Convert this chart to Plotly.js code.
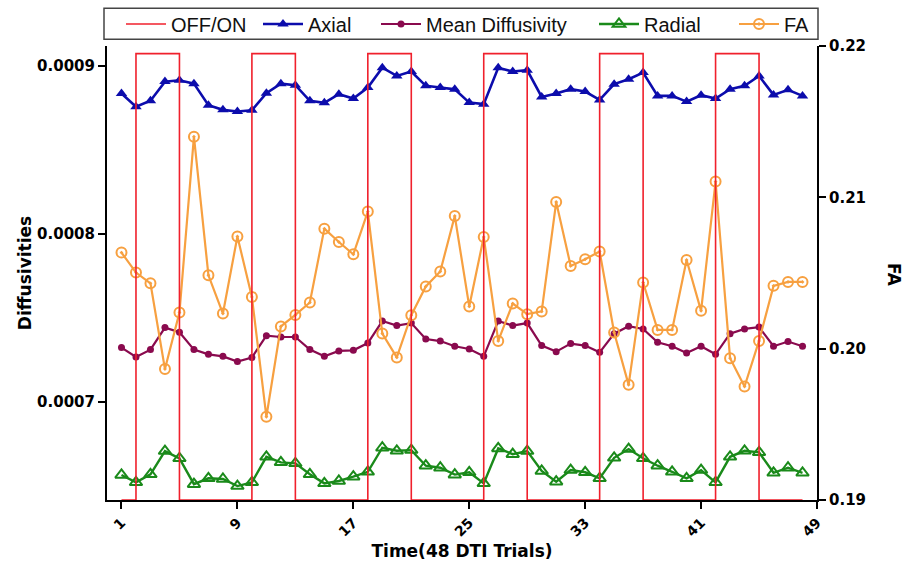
<!DOCTYPE html>
<html>
<head>
<meta charset="utf-8">
<script src="https://cdn.plot.ly/plotly-3.0.1.min.js"></script>
<style>html,body{margin:0;padding:0;background:#fff;}#chart{width:906px;height:563px;}</style>
</head>
<body>
<div id="chart"></div>
<script>
var trials = [1,2,3,4,5,6,7,8,9,10,11,12,13,14,15,16,17,18,19,20,21,22,23,24,25,26,27,28,29,30,31,32,33,34,35,36,37,38,39,40,41,42,43,44,45,46,47,48];
var offOn = [0,1,1,1,0,0,0,0,0,1,1,1,0,0,0,0,0,1,1,1,0,0,0,0,0,1,1,1,0,0,0,0,0,1,1,1,0,0,0,0,0,1,1,1,0,0,0,0];
var axial = [0.0008835,0.0008756,0.0008792,0.0008906,0.0008914,0.0008894,0.0008766,0.0008738,0.0008728,0.0008736,0.0008837,0.0008894,0.0008885,0.0008792,0.0008780,0.0008831,0.0008805,0.0008871,0.0008989,0.0008940,0.0008966,0.0008881,0.0008871,0.0008860,0.0008781,0.0008772,0.0008989,0.0008966,0.0008974,0.0008815,0.0008835,0.0008861,0.0008847,0.0008797,0.0008891,0.0008920,0.0008960,0.0008821,0.0008821,0.0008787,0.0008825,0.0008805,0.0008861,0.0008881,0.0008940,0.0008827,0.0008857,0.0008821];
var meanDiffusivity = [0.0007323,0.0007267,0.0007311,0.0007442,0.0007414,0.0007311,0.0007283,0.0007271,0.0007240,0.0007264,0.0007394,0.0007386,0.0007386,0.0007311,0.0007271,0.0007303,0.0007307,0.0007350,0.0007481,0.0007454,0.0007469,0.0007374,0.0007362,0.0007331,0.0007315,0.0007271,0.0007481,0.0007454,0.0007469,0.0007335,0.0007299,0.0007347,0.0007335,0.0007295,0.0007406,0.0007450,0.0007434,0.0007355,0.0007331,0.0007291,0.0007331,0.0007283,0.0007406,0.0007434,0.0007445,0.0007331,0.0007359,0.0007331];
var radial = [0.0006565,0.0006521,0.0006569,0.0006707,0.0006664,0.0006510,0.0006545,0.0006541,0.0006499,0.0006521,0.0006673,0.0006640,0.0006634,0.0006569,0.0006515,0.0006529,0.0006555,0.0006584,0.0006727,0.0006709,0.0006713,0.0006620,0.0006608,0.0006567,0.0006581,0.0006515,0.0006723,0.0006689,0.0006707,0.0006589,0.0006525,0.0006594,0.0006581,0.0006545,0.0006667,0.0006719,0.0006664,0.0006620,0.0006584,0.0006545,0.0006594,0.0006521,0.0006673,0.0006709,0.0006700,0.0006578,0.0006608,0.0006578];
var fa = [0.20635,0.20503,0.20432,0.19865,0.20239,0.21401,0.20485,0.20232,0.20741,0.20342,0.19550,0.20147,0.20223,0.20305,0.20793,0.20705,0.20624,0.20906,0.20100,0.19942,0.20221,0.20411,0.20510,0.20877,0.20279,0.20738,0.20051,0.20298,0.20228,0.20246,0.20969,0.20547,0.20591,0.20642,0.20107,0.19761,0.20437,0.20124,0.20124,0.20586,0.20250,0.21104,0.19937,0.19750,0.20051,0.20415,0.20441,0.20441];

var xTickVals = [1,9,17,25,33,41,49];
var xTickText = ['1','9','17','25','33','41','49'];
var leftTickVals = [0.0007,0.0008,0.0009];
var leftTickText = ['0.0007','0.0008','0.0009'];
var rightTickVals = [0.19,0.20,0.21,0.22];
var rightTickText = ['0.19','0.20','0.21','0.22'];

var boldFont = {family:'DejaVu Sans', size:15, color:'#000', weight:'bold'};
var legFont = {family:'Liberation Sans, Arial, sans-serif', size:20, color:'#111'};

var traces = [
  {x:trials, y:offOn, name:'OFF/ON', type:'scatter', mode:'lines', line:{color:'#f0202c', width:1.6, shape:'hv'}, yaxis:'y3', legend:'legend'},
  {x:trials, y:axial, name:'Axial', type:'scatter', mode:'lines+markers', line:{color:'#0c0cac', width:2.6}, marker:{symbol:'triangle-up', size:10, color:'#0c0cac'}, yaxis:'y', legend:'legend2'},
  {x:trials, y:meanDiffusivity, name:'Mean Diffusivity', type:'scatter', mode:'lines+markers', line:{color:'#8a0a4e', width:2.2}, marker:{symbol:'circle', size:7, color:'#8a0a4e'}, yaxis:'y', legend:'legend3'},
  {x:trials, y:radial, name:'Radial', type:'scatter', mode:'lines+markers', line:{color:'#1a8a1a', width:2.4}, marker:{symbol:'triangle-up-open', size:11, color:'#1a8a1a', line:{width:2, color:'#1a8a1a'}}, yaxis:'y', legend:'legend4'},
  {x:trials, y:fa, name:'FA', type:'scatter', mode:'lines+markers', line:{color:'#f7a040', width:2.2}, marker:{symbol:'circle-open-dot', size:10, color:'#f7a040', line:{width:2, color:'#f7a040'}}, yaxis:'y2', legend:'legend5'}
];

var legY = 1 - 24 / 563;
function leg(p){ return {x:p/906, xref:'container', xanchor:'left', y:legY, yref:'container', yanchor:'middle', orientation:'h', itemwidth:40, bgcolor:'rgba(0,0,0,0)', borderwidth:0, font:legFont}; }

var layout = {
  width:906, height:563,
  margin:{l:107, r:89, t:46, b:63},
  paper_bgcolor:'#fff', plot_bgcolor:'#fff',
  showlegend:true,
  legend:leg(121), legend2:leg(258), legend3:leg(376), legend4:leg(594), legend5:leg(734),
  xaxis:{range:[0,49], tickvals:xTickVals, ticktext:xTickText, tickangle:-45, tickfont:{family:'DejaVu Sans', size:14, color:'#000', weight:'bold'},
         ticks:'outside', ticklen:7, tickwidth:2, tickcolor:'#000', showline:true, linecolor:'#000', linewidth:2, showgrid:false, zeroline:false,
         title:{text:'Time(48 DTI Trials)', font:{family:'DejaVu Sans', size:17, color:'#000', weight:'bold'}, standoff:6}},
  yaxis:{range:[0.0006416,0.0009118], tickvals:leftTickVals, ticktext:leftTickText, tickfont:boldFont,
         ticks:'outside', ticklen:7, tickwidth:2, tickcolor:'#000', showline:true, linecolor:'#000', linewidth:2, showgrid:false, zeroline:false,
         title:{text:'Diffusivities', font:{family:'DejaVu Sans', size:17, color:'#000', weight:'bold'}, standoff:1}},
  yaxis2:{range:[0.19,0.22], overlaying:'y', side:'right', anchor:'x', tickvals:rightTickVals, ticktext:rightTickText, tickfont:boldFont,
          ticks:'outside', ticklen:7, tickwidth:2, tickcolor:'#000', showline:true, linecolor:'#000', linewidth:2, showgrid:false, zeroline:false},
  yaxis3:{range:[0,1.017], overlaying:'y', visible:false, showgrid:false, zeroline:false},
  annotations:[{text:'FA', xref:'paper', yref:'paper', x:(894-107)/710, y:1-(275-46)/454, xanchor:'center', yanchor:'middle', showarrow:false, textangle:90,
                font:{family:'DejaVu Sans', size:17, color:'#000', weight:'bold'}}],
  shapes:[{type:'rect', xref:'paper', yref:'paper', x0:(104-107)/710, x1:(818-107)/710, y0:1+(46-39.3)/454, y1:1+(46-8.3)/454,
           line:{color:'#444', width:1.5}, fillcolor:'rgba(0,0,0,0)', layer:'above'}]
};

Plotly.newPlot('chart', traces, layout, {displayModeBar:false, staticPlot:true});
</script>
</body>
</html>
